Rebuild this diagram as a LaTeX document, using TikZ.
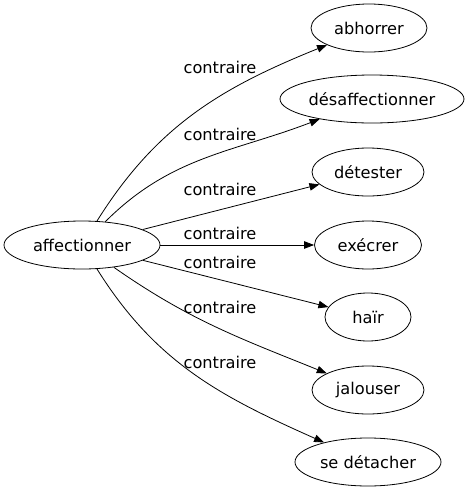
\documentclass[tikz,border=0pt]{standalone}
\usepackage{fontspec}
\setmainfont{DejaVu Sans}
\usetikzlibrary{shapes.geometric,arrows.meta}
\begin{document}
\begin{tikzpicture}[x=1pt,y=-1pt,
  every node/.style={font=\fontsize{16.2}{19}\selectfont},
  term/.style={ellipse,draw,line width=0.8pt,inner sep=0pt,minimum height=48pt},
  lbl/.style={inner sep=0pt},
  rel/.style={line width=0.8pt,-{Triangle[length=10pt,width=7.5pt]}}]
\useasboundingbox (0,0) rectangle (469,491);
\node[term,minimum width=156pt] (m) at (82,245) {affectionner};
\node[term,minimum width=116pt] (a) at (369,28) {abhorrer};
\node[term,minimum width=184pt] (b) at (372,99) {désaffectionner};
\node[term,minimum width=112pt] (c) at (368,172) {détester};
\node[term,minimum width=107pt] (d) at (368,245) {exécrer};
\node[term,minimum width=86pt] (e) at (368,317) {haïr};
\node[term,minimum width=112pt] (f) at (368,390) {jalouser};
\node[term,minimum width=146pt] (g) at (368,462) {se détacher};
\draw[rel] (m) to[out=58,in=202] (a);
\draw[rel] (m) to[out=45,in=201] (b);
\draw[rel] (m) -- (c);
\draw[rel] (m) -- (d);
\draw[rel] (m) -- (e);
\draw[rel] (m) to[out=-35,in=158] (f);
\draw[rel] (m) to[out=-58,in=156] (g);
\node[lbl] (la) at (220,67) {contraire};
\node[lbl] (lb) at (220,134) {contraire};
\node[lbl] (lc) at (220,189) {contraire};
\node[lbl] (ld) at (220,233) {contraire};
\node[lbl] (le) at (220,262) {contraire};
\node[lbl] (lf) at (220,307) {contraire};
\node[lbl] (lg) at (220,362) {contraire};
\end{tikzpicture}
\end{document}
